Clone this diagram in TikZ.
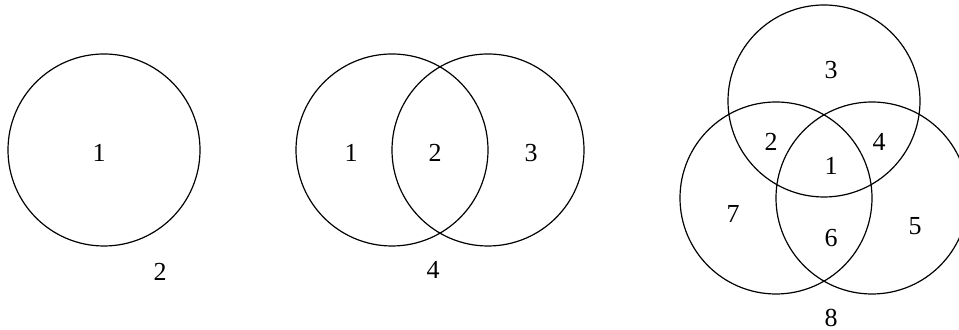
\documentclass[tikz,border=0pt]{standalone}
\usepackage{fontspec}
\setmainfont{Liberation Serif}
\usetikzlibrary{positioning}

\begin{document}
\begin{tikzpicture}[x=0.5pt, y=-0.5pt,
    setline/.style={line width=0.6pt},
    region/.style={inner sep=0pt, font=\fontsize{13}{15}\selectfont}]
    \useasboundingbox (0,0) rectangle (959,330);
    % one set
    \draw[setline] (104,150) circle (96);
    \node[region] (a1) at (99,153) {1};
    \node[region] (aout) at (160,272) {2};
    % two sets
    \draw[setline] (392,150) circle (96);
    \draw[setline] (488,150) circle (96);
    \node[region] (b1) at (351,153) {1};
    \node[region] (b2) at (435,153) {2};
    \node[region] (b3) at (531,153) {3};
    \node[region] (bout) at (433,270) {4};
    % three sets
    \draw[setline] (824,101) circle (96);
    \draw[setline] (776,198) circle (96);
    \draw[setline] (872,198) circle (96);
    \node[region] (c3) at (831,70) {3};
    \node[region] (c2) at (771,142) {2};
    \node[region] (c4) at (879,142) {4};
    \node[region] (c1) at (831,166) {1};
    \node[region] (c7) at (733,214) {7};
    \node[region] (c6) at (831,238) {6};
    \node[region] (c5) at (915,226) {5};
    \node[region] (cout) at (831,318) {8};
\end{tikzpicture}
\end{document}
